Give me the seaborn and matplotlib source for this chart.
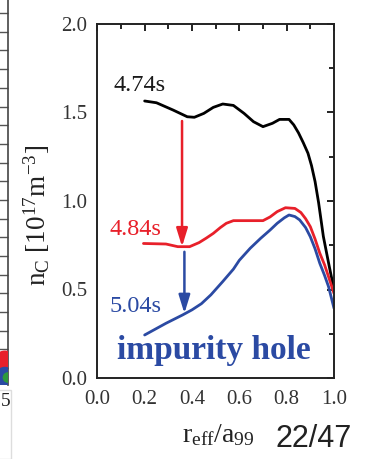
import numpy as np
import pandas as pd
import matplotlib
matplotlib.use("Agg")
import matplotlib.pyplot as plt
from matplotlib.ticker import MultipleLocator
from matplotlib.patches import Rectangle
import seaborn as sns

# ---------------- data ----------------
black_x = [0.20, 0.25, 0.32, 0.38, 0.41, 0.45, 0.49, 0.53, 0.575, 0.62, 0.66, 0.70, 0.74, 0.77, 0.81, 0.83, 0.85, 0.87, 0.89, 0.905, 0.92, 0.935, 0.955, 0.98, 1.0]
black_y = [1.565, 1.555, 1.514, 1.476, 1.473, 1.495, 1.529, 1.548, 1.540, 1.495, 1.448, 1.42, 1.439, 1.461, 1.461, 1.43, 1.385, 1.33, 1.27, 1.20, 1.11, 0.99, 0.80, 0.63, 0.50]

red_x = [0.195, 0.29, 0.34, 0.39, 0.43, 0.46, 0.49, 0.52, 0.545, 0.575, 0.70, 0.73, 0.76, 0.795, 0.835, 0.86, 0.88, 0.90, 0.92, 0.94, 0.96, 0.977, 1.0]
red_y = [0.76, 0.757, 0.742, 0.742, 0.765, 0.79, 0.817, 0.85, 0.874, 0.889, 0.889, 0.91, 0.94, 0.962, 0.958, 0.935, 0.90, 0.855, 0.785, 0.705, 0.64, 0.572, 0.478]

blue_x = [0.20, 0.29, 0.36, 0.40, 0.44, 0.48, 0.53, 0.575, 0.60, 0.646, 0.69, 0.73, 0.76, 0.79, 0.81, 0.835, 0.855, 0.88, 0.90, 0.92, 0.94, 0.96, 0.977, 1.0]
blue_y = [0.243, 0.309, 0.356, 0.385, 0.42, 0.47, 0.545, 0.615, 0.665, 0.733, 0.789, 0.836, 0.874, 0.905, 0.921, 0.912, 0.893, 0.85, 0.798, 0.73, 0.648, 0.58, 0.516, 0.394]

series_labels = ["4.74s", "4.84s", "5.04s"]
annotation_text = "impurity hole"
x_ticks = [0.0, 0.2, 0.4, 0.6, 0.8, 1.0]
y_ticks = [0.0, 0.5, 1.0, 1.5, 2.0]
page_label = "22/47"

# arrows (x, y_start, y_end)
red_arrow = (0.358, 1.452, 0.742)
blue_arrow = (0.368, 0.713, 0.365)

# neighbouring panel (cropped) decoration
left_ticks = list(range(1, 21))
left_marker_y = [1.3, 0.55, 0.5]
left_marker_c = ["#e8202a", "#2b4aa3", "#2e9a3c"]

BLACK = "#000000"
RED = "#e8202a"
BLUE = "#2b4aa3"

df = pd.concat([
    pd.DataFrame({"x": black_x, "y": black_y, "t": series_labels[0]}),
    pd.DataFrame({"x": red_x, "y": red_y, "t": series_labels[1]}),
    pd.DataFrame({"x": blue_x, "y": blue_y, "t": series_labels[2]}),
])

sns.set_theme(style="white")
plt.rcParams['font.family'] = ['Liberation Serif', 'DejaVu Serif']
plt.rcParams['mathtext.fontset'] = 'custom'
plt.rcParams['mathtext.rm'] = 'Liberation Serif'
plt.rcParams['mathtext.it'] = 'Liberation Serif:italic'
plt.rcParams['mathtext.bf'] = 'Liberation Serif:bold'

W, H = 369, 459
fig = plt.figure(figsize=(W / 100, H / 100), dpi=100)
fig.patch.set_facecolor("white")

def fx(px):
    return px / W

def fy(py):
    return 1 - py / H

ax_l, ax_r, ax_t, ax_b = 97.3, 334.0, 24.0, 378.0
ax = fig.add_axes([fx(ax_l), fy(ax_b), fx(ax_r - ax_l), (ax_b - ax_t) / H])

sns.lineplot(data=df, x="x", y="y", hue="t", palette=[BLACK, RED, BLUE],
             sort=False, estimator=None, linewidth=2.0, legend=False, ax=ax,
             solid_joinstyle="round", solid_capstyle="round")

ax.set_xlim(0, 1.0)
ax.set_ylim(0, 2.0)
ax.set_xticks(x_ticks)
ax.set_yticks(y_ticks)
ax.xaxis.set_minor_locator(MultipleLocator(0.1))
ax.yaxis.set_minor_locator(MultipleLocator(0.25))
ax.set_xticklabels([f"{v:.1f}" for v in x_ticks])
ax.set_yticklabels([f"{v:.1f}" for v in y_ticks])
ax.tick_params(which="both", direction="in", top=True, right=True,
               color="#111111", width=1.3)
ax.tick_params(which="major", length=5, labelsize=15, pad=7, labelcolor="#333333")
ax.tick_params(axis="x", which="major", pad=9)
ax.tick_params(which="minor", length=3.5)
for s in ax.spines.values():
    s.set_color("#222222")
    s.set_linewidth(1.4)

ax.set_xlabel(r'r$_{\rm eff}$/a$_{99}$', fontsize=20, color="#222222", va="center")
ax.xaxis.set_label_coords(0.51, -0.161)
ax.set_ylabel(r'n$_{\rm C}$ [10$^{17}$m$^{-3}$]', fontsize=19.5, color="#222222", va="center")
ax.yaxis.set_label_coords(-0.255, 0.46)

# arrows
for (xa, y0, y1), c in [(red_arrow, RED), (blue_arrow, BLUE)]:
    ax.annotate("", xy=(xa, y1), xytext=(xa, y0),
                arrowprops=dict(arrowstyle="-|>,head_length=0.55,head_width=0.17",
                                mutation_scale=20, color=c, lw=1.8,
                                shrinkA=0, shrinkB=0))

# labels
ax.text(0.18, 1.655, series_labels[0], color="#1a1a1a", fontsize=17.5, ha="center", va="center")
ax.text(0.16, 0.84, series_labels[1], color=RED, fontsize=17.5, ha="center", va="center")
ax.text(0.16, 0.404, series_labels[2], color=BLUE, fontsize=17.5, ha="center", va="center")
ax.text(0.494, 0.158, annotation_text, color=BLUE, fontsize=24, fontweight="bold",
        ha="center", va="center")

# cropped neighbouring panel at the left edge
axl = fig.add_axes([fx(-200), fy(385), fx(208), 385 / H])
axl.set_xlim(0, 1)
axl.set_ylim(0.1, 20.7)
axl.set_yticks(left_ticks)
axl.set_xticks([])
axl.yaxis.tick_right()
axl.tick_params(axis="y", direction="in", length=9, width=1.0, color="#555555",
                labelright=False, labelleft=False)
for k, s in axl.spines.items():
    s.set_visible(k == "right")
axl.spines["right"].set_color("#444444")
axl.spines["right"].set_linewidth(1.2)
axl.patch.set_alpha(0)
axl.scatter([0.985, 0.985, 1.0], left_marker_y, s=[300, 200, 60], c=left_marker_c,
            marker="o", clip_on=True, zorder=3, linewidths=0)

fig.patches.append(Rectangle((fx(-10), 0), fx(21), fy(390), transform=fig.transFigure,
                             facecolor="none", edgecolor="#dddddd", linewidth=1.0))
fig.text(fx(0.5), fy(402), "5", fontsize=14, color="#222222", ha="left", va="center")

fig.text(fx(314), fy(439), page_label, fontsize=22, color="#222222",
         family="Liberation Sans", ha="center", va="center")

fig.savefig("out.png", dpi=100)
